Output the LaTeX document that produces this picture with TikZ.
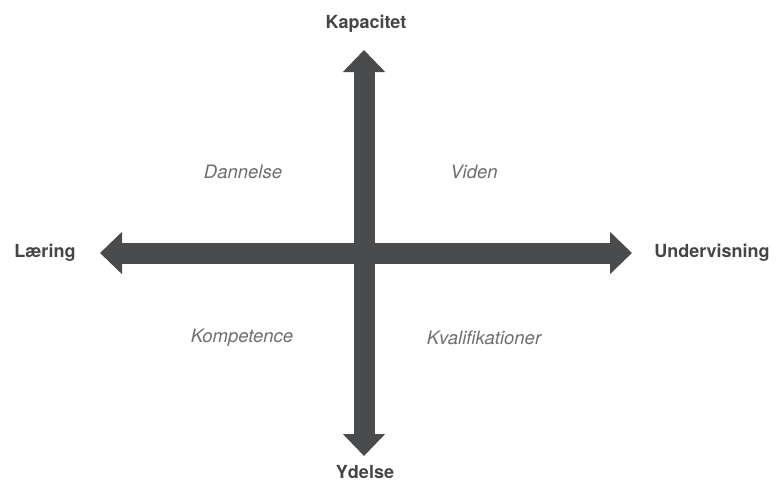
\documentclass[tikz,border=0pt]{standalone}
\usepackage{fontspec}
\setmainfont{TeX Gyre Heros}
\usetikzlibrary{arrows.meta}
\definecolor{axiscolor}{HTML}{4A4B4D}
\definecolor{labelcolor}{HTML}{454545}
\definecolor{fieldcolor}{HTML}{6E6E6E}
\newcommand{\shaft}{21pt}
\newcommand{\headtip}{Triangle[width=41pt,length=22pt]}

\begin{document}
\begin{tikzpicture}[x=1pt,y=-1pt,
  axislabel/.style={text=labelcolor,font=\fontsize{18}{21}\selectfont\bfseries},
  fieldlabel/.style={text=fieldcolor,font=\fontsize{18.5}{22}\selectfont\itshape}]
\useasboundingbox (0,0) rectangle (776,483);
% ends of the two axes
\coordinate (top) at (364,50);
\coordinate (bottom) at (364,456);
\coordinate (left) at (100,253);
\coordinate (right) at (632,253);
% axes
\draw[axiscolor,line width=\shaft,{\headtip}-{\headtip}] (left) -- (right);
\draw[axiscolor,line width=\shaft,{\headtip}-{\headtip}] (bottom) -- (top);
% axis names
\node[axislabel] (kapacitet) at (366,24) {Kapacitet};
\node[axislabel] (ydelse) at (365,472) {Ydelse};
\node[axislabel] (laering) at (45,253) {Læring};
\node[axislabel] (undervisning) at (712,253) {Undervisning};
% quadrants
\node[fieldlabel] (dannelse) at (243,172) {Dannelse};
\node[fieldlabel] (viden) at (474,172) {Viden};
\node[fieldlabel] (kompetence) at (242,338) {Kompetence};
\node[fieldlabel] (kvalifikationer) at (484,338) {Kvalifikationer};
\end{tikzpicture}
\end{document}
